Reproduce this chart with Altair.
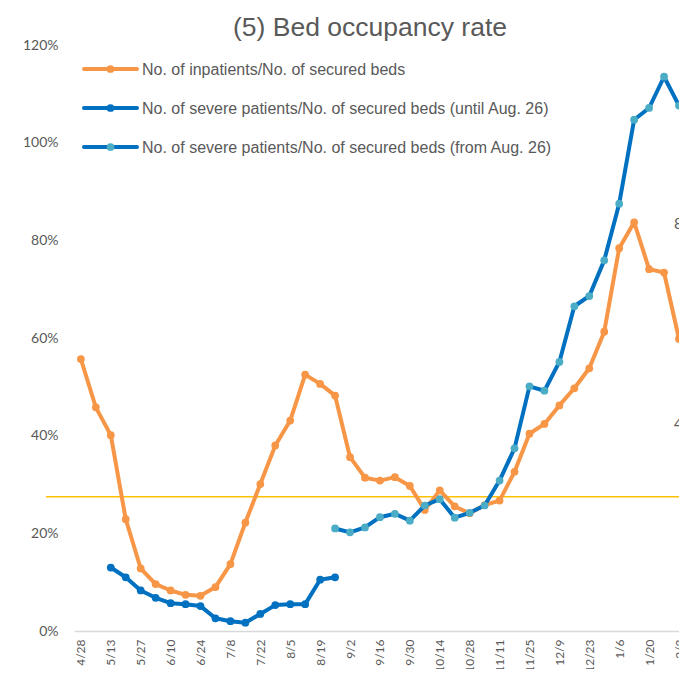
import altair as alt
import pandas as pd

# ---------------- data ----------------
dates = ['4/28', '5/6', '5/13', '5/20', '5/27', '6/3', '6/10', '6/17', '6/24', '7/1',
         '7/8', '7/15', '7/22', '7/29', '8/5', '8/12', '8/19', '8/26', '9/2', '9/9',
         '9/16', '9/23', '9/30', '10/7', '10/14', '10/21', '10/28', '11/4', '11/11', '11/18',
         '11/25', '12/2', '12/9', '12/16', '12/23', '12/30', '1/6', '1/13', '1/20', '1/27', '2/3']

inpatients = [55.7, 45.8, 40.1, 22.9, 12.8, 9.6, 8.3, 7.4, 7.2, 9.0,
              13.7, 22.2, 30.1, 38.0, 43.1, 52.5, 50.6, 48.2, 35.6, 31.4,
              30.8, 31.5, 29.7, 24.8, 28.8, 25.5, 24.1, 25.8, 26.7, 32.6,
              40.4, 42.4, 46.2, 49.7, 53.8, 61.3, 78.4, 83.7, 74.1, 73.4, 59.8]

severe_until_start = 2      # first week (5/13)
severe_until = [13.0, 11.0, 8.3, 6.8, 5.7, 5.5, 5.1, 2.6, 2.0, 1.7,
                3.5, 5.3, 5.5, 5.5, 10.5, 11.0]

severe_from_start = 17      # 8/26
severe_from = [21.0, 20.2, 21.2, 23.3, 24.0, 22.6, 25.7, 27.0, 23.2, 24.2,
               25.7, 30.8, 37.4, 50.1, 49.2, 55.1, 66.5, 68.6, 75.9, 87.5,
               104.7, 107.1, 113.5, 107.6]

threshold = 27.5

series_names = ['No. of inpatients/No. of secured beds',
                'No. of severe patients/No. of secured beds (until Aug. 26)',
                'No. of severe patients/No. of secured beds (from Aug. 26)']
line_colors = ['#F79646', '#0070C0', '#0070C0']
marker_colors = ['#F79646', '#0070C0', '#4BACC6']

y_ticks = [0, 20, 40, 60, 80, 100, 120]
right_fragments = ['8', '4']
right_fragment_values = [83.3, 42.3]

# ---------------- frames ----------------
frames = [
    pd.DataFrame({'idx': list(range(len(inpatients))), 'value': inpatients}),
    pd.DataFrame({'idx': list(range(severe_until_start, severe_until_start + len(severe_until))),
                  'value': severe_until}),
    pd.DataFrame({'idx': list(range(severe_from_start, severe_from_start + len(severe_from))),
                  'value': severe_from}),
]

W, H = 605, 586
label_font = 'Lato'
text_color = '#595959'

label_array = '[' + ','.join("'" + d + "'" for d in dates) + ']'

x_enc = alt.X('idx:Q',
              scale=alt.Scale(domain=[-0.46, len(dates) - 1], nice=False, zero=False),
              axis=alt.Axis(values=list(range(0, len(dates), 2)),
                            labelExpr=label_array + '[datum.value]',
                            labelAngle=270, labelPadding=8, ticks=False,
                            domainColor='#D9D9D9', domainWidth=1.7,
                            labelFont=label_font, labelFontSize=12, labelColor=text_color,
                            grid=False, title=None, labelOverlap=False))
y_enc = alt.Y('value:Q',
              scale=alt.Scale(domain=[0, 120], nice=False),
              axis=alt.Axis(values=y_ticks, labelExpr="datum.value + '%'",
                            grid=False, domain=False, ticks=False, labelPadding=16,
                            labelFont=label_font, labelFontSize=14, labelColor=text_color,
                            title=None))

layers = []
for df, lc, mc in zip(frames, line_colors, marker_colors):
    base = alt.Chart(df)
    layers.append(base.mark_line(color=lc, strokeWidth=4, strokeJoin='round',
                                 strokeCap='round').encode(x=x_enc, y=y_enc))
    layers.append(base.mark_circle(color=mc, size=60, opacity=1).encode(x=x_enc, y=y_enc))

# threshold line (drawn shape spanning the chart)
layers.insert(0, alt.Chart(pd.DataFrame({'t': [threshold]})).mark_rule(
    color='#FFC000', strokeWidth=1.5).encode(
    y=alt.Y('t:Q'), x=alt.value(-28), x2=alt.value(W)))

# manual legend (line + marker + label)
legend_df = pd.DataFrame({'label': series_names, 'line': line_colors, 'marker': marker_colors})
for i, name in enumerate(series_names):
    yy = 24 + 39 * i
    row = alt.Chart(legend_df.iloc[[i]])
    layers.append(row.mark_rule(color=line_colors[i], strokeWidth=4, strokeCap='round').encode(
        x=alt.value(10), x2=alt.value(63), y=alt.value(yy)))
    layers.append(row.mark_circle(color=marker_colors[i], size=60, opacity=1).encode(
        x=alt.value(36.5), y=alt.value(yy)))
    layers.append(row.mark_text(align='left', baseline='middle', font='Liberation Sans',
                                fontSize=16, color=text_color).encode(
        x=alt.value(68), y=alt.value(yy + 1), text='label:N'))

# cut-off labels of the neighbouring chart at the right edge
frag_df = pd.DataFrame({'t': right_fragments, 'v': right_fragment_values})
layers.append(alt.Chart(frag_df).mark_text(align='left', baseline='middle', font=label_font,
                                           fontSize=15, color=text_color).encode(
    x=alt.value(W - 5), y=alt.Y('v:Q'), text='t:N'))

chart = alt.layer(*layers).properties(
    width=W, height=H,
    title=alt.TitleParams('(5) Bed occupancy rate', font='Liberation Sans', fontSize=26.5,
                          fontWeight='normal', color=text_color, anchor='start',
                          frame='group', dx=159, dy=4, offset=1),
    autosize=alt.AutoSizeParams(type='none'),
    padding={'left': 66, 'top': 37, 'right': 0, 'bottom': 38},
).configure_view(stroke=None)

chart.save('out.html', embed_options={'renderer': 'svg', 'actions': False})
